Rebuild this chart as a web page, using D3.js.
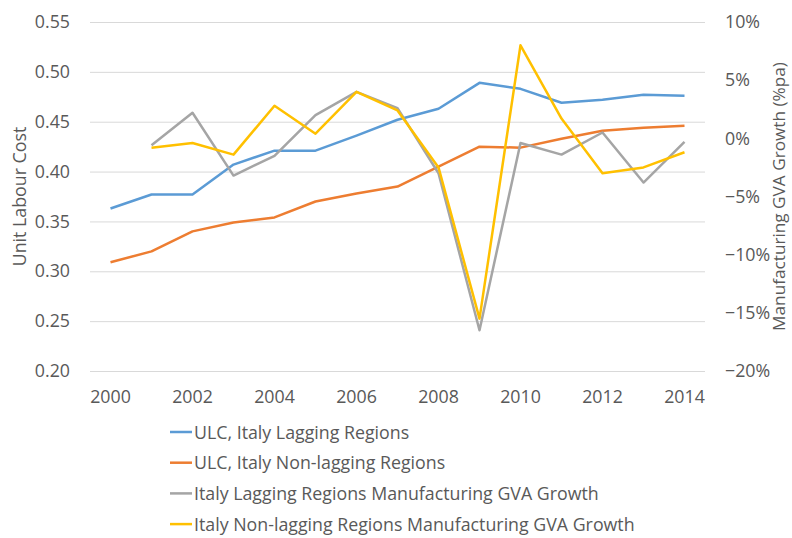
<!DOCTYPE html>
<html>
<head>
<meta charset="utf-8">
<script src="https://cdn.jsdelivr.net/npm/d3@7"></script>
<style>
  html, body { margin: 0; padding: 0; background: #fff; }
  svg text { font-family: "Open Sans", sans-serif; fill: #595959; }
</style>
</head>
<body>
<div id="chart"></div>
<script>
/* ULC vs manufacturing GVA growth, Italy lagging / non-lagging regions */

const years = d3.range(2000, 2015);
const yearTicks = [2000, 2002, 2004, 2006, 2008, 2010, 2012, 2014];
const ulcTicks = [0.20, 0.25, 0.30, 0.35, 0.40, 0.45, 0.50, 0.55];
const gvaTicks = [-0.20, -0.15, -0.10, -0.05, 0, 0.05, 0.10];

const ulcLagging    = [0.363, 0.377, 0.377, 0.407, 0.421, 0.421, 0.436, 0.452, 0.463, 0.489, 0.483, 0.469, 0.472, 0.477, 0.476];
const ulcNonLagging = [0.309, 0.320, 0.340, 0.349, 0.354, 0.370, 0.378, 0.385, 0.405, 0.425, 0.424, 0.433, 0.441, 0.444, 0.446];
// growth starts in 2001
const gvaLagging    = [null, -0.006, 0.022, -0.032, -0.015, 0.020, 0.040, 0.026, -0.030, -0.165, -0.004, -0.014, 0.005, -0.038, -0.003];
const gvaNonLagging = [null, -0.008, -0.004, -0.014, 0.028, 0.004, 0.040, 0.024, -0.025, -0.155, 0.080, 0.017, -0.030, -0.025, -0.012];

const series = [
  { label: 'ULC, Italy Lagging Regions', values: ulcLagging, axis: 'L', color: '#5B9BD5' },
  { label: 'ULC, Italy Non-lagging Regions', values: ulcNonLagging, axis: 'L', color: '#ED7D31' },
  { label: 'Italy Lagging Regions Manufacturing GVA Growth', values: gvaLagging, axis: 'R', color: '#A5A5A5' },
  { label: 'Italy Non-lagging Regions Manufacturing GVA Growth', values: gvaNonLagging, axis: 'R', color: '#FFC000' },
];

const W = 792, H = 538;
const m = { t: 22, r: 87, b: 167, l: 90 };
const w = W - m.l - m.r, h = H - m.t - m.b;
const FS = 17.8;

const svg = d3.select('#chart').append('svg').attr('width', W).attr('height', H);
const g = svg.append('g').attr('transform', `translate(${m.l},${m.t})`);

const x = d3.scaleBand().domain(years).range([0, w]);
const cx = yr => x(yr) + x.bandwidth() / 2;
const yL = d3.scaleLinear().domain([0.20, 0.55]).range([h, 0]);
const yR = d3.scaleLinear().domain([-0.20, 0.10]).range([h, 0]);

/* grid */
g.append('g')
  .call(d3.axisLeft(yL).tickValues(ulcTicks).tickSize(-w).tickFormat(''))
  .call(a => a.select('.domain').remove())
  .call(a => a.selectAll('line').attr('stroke', '#d9d9d9').attr('stroke-width', 1));

/* axes */
g.append('g')
  .call(d3.axisLeft(yL).tickValues(ulcTicks).tickSize(0).tickPadding(20).tickFormat(d3.format('.2f')))
  .call(a => a.select('.domain').remove())
  .call(a => a.selectAll('text').attr('font-size', FS));

g.append('g').attr('transform', `translate(${w},0)`)
  .call(d3.axisRight(yR).tickValues(gvaTicks).tickSize(0).tickPadding(20).tickFormat(d3.format('.0%')))
  .call(a => a.select('.domain').remove())
  .call(a => a.selectAll('text').attr('font-size', FS));

g.append('g').attr('transform', `translate(0,${h})`)
  .call(d3.axisBottom(x).tickValues(yearTicks).tickSize(0).tickPadding(19))
  .call(a => a.select('.domain').remove())
  .call(a => a.selectAll('text').attr('font-size', FS));

/* axis titles */
svg.append('text')
  .attr('transform', `translate(26,${m.t + h / 2}) rotate(-90)`)
  .attr('text-anchor', 'middle').attr('font-size', FS)
  .text('Unit Labour Cost');
svg.append('text')
  .attr('transform', `translate(785,${m.t + h / 2}) rotate(-90)`)
  .attr('text-anchor', 'middle').attr('font-size', 17.2)
  .text('Manufacturing GVA Growth (%pa)');

/* lines */
series.forEach(s => {
  const y = s.axis === 'L' ? yL : yR;
  const line = d3.line()
    .defined(d => d.v !== null)
    .x(d => cx(d.yr)).y(d => y(d.v));
  g.append('path')
    .datum(years.map((yr, i) => ({ yr, v: s.values[i] })))
    .attr('fill', 'none').attr('stroke', s.color)
    .attr('stroke-width', 2.5).attr('stroke-linejoin', 'round')
    .attr('d', line);
});

/* legend */
const leg = svg.append('g').attr('transform', 'translate(170,432)');
series.forEach((s, i) => {
  const row = leg.append('g').attr('transform', `translate(0,${i * 30.7})`);
  row.append('line').attr('x1', 0).attr('x2', 22).attr('y1', 0).attr('y2', 0)
    .attr('stroke', s.color).attr('stroke-width', 2.5);
  row.append('text').attr('x', 24).attr('y', 6.5).attr('font-size', FS).text(s.label);
});
</script>
</body>
</html>
